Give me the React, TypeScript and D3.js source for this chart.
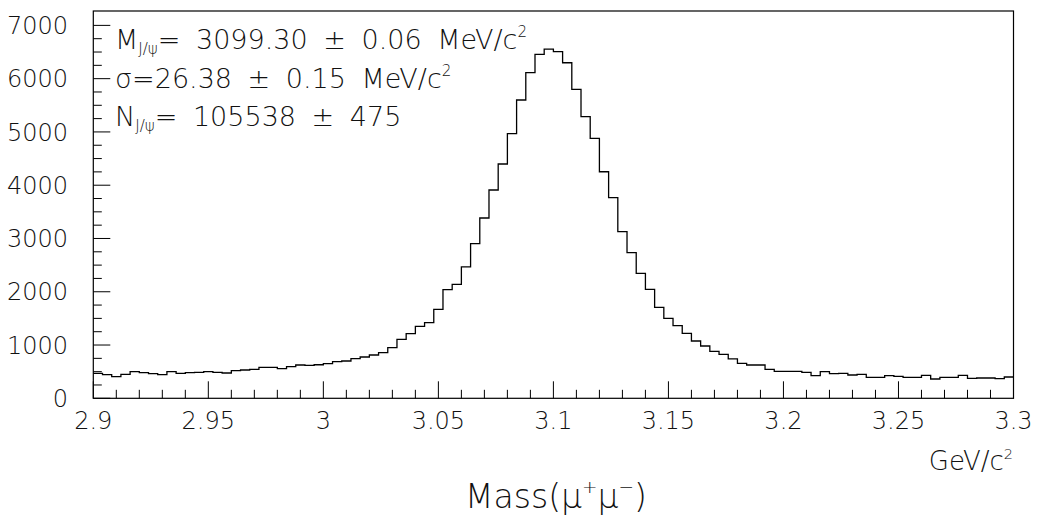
import React, { useEffect, useRef } from 'react';
import * as d3 from 'd3';

// histogram: 100 bins of 4 MeV between 2.9 and 3.3 GeV
const binStart = 2.9;
const binWidth = 0.004;
const counts = [
  469, 443, 405, 450, 500, 481, 462, 443, 500, 469,
  481, 488, 500, 488, 475, 518, 531, 544, 582, 582,
  556, 593, 625, 619, 630, 650, 690, 700, 743, 775,
  813, 856, 950, 1107, 1213, 1351, 1419, 1670, 2040, 2140,
  2468, 2902, 3384, 3910, 4398, 4967, 5599, 6112, 6457, 6556,
  6506, 6299, 5800, 5286, 4880, 4253, 3765, 3127, 2733, 2346,
  2046, 1708, 1502, 1363, 1220, 1076, 982, 880, 826, 740,
  657, 625, 625, 544, 507, 507, 507, 488, 424, 500,
  462, 469, 437, 450, 394, 394, 424, 413, 394, 394,
  432, 362, 394, 394, 432, 375, 381, 381, 368, 400,
];

const xMajorTicks = [2.9, 2.95, 3.0, 3.05, 3.1, 3.15, 3.2, 3.25, 3.3];
const xTickLabels = ['2.9', '2.95', '3', '3.05', '3.1', '3.15', '3.2', '3.25', '3.3'];
const yMajorTicks = [0, 1000, 2000, 3000, 4000, 5000, 6000, 7000];

// fit results, [text, 'sub' | 'sup' | '']
const fitLines: [string, string][][] = [
  [['M', ''], ['J/ψ', 'sub'], ['= 3099.30 ± 0.06 MeV/c', ''], ['2', 'sup']],
  [['σ=26.38 ± 0.15 MeV/c', ''], ['2', 'sup']],
  [['N', ''], ['J/ψ', 'sub'], ['= 105538 ± 475', '']],
];

const FONT = "'DejaVu Sans', sans-serif";

function richText(sel: any, parts: [string, string][], fs: number) {
  let shift = 0;
  parts.forEach(([t, k]) => {
    const target = k === 'sub' ? fs * 0.2 : k === 'sup' ? -fs * 0.44 : 0;
    sel.append('tspan')
      .attr('dy', target - shift)
      .attr('font-size', k ? fs * 0.56 : fs)
      .text(t);
    shift = target;
  });
}

export default function App() {
  const ref = useRef<SVGSVGElement>(null);

  useEffect(() => {
    const svg = d3.select(ref.current);
    svg.selectAll('*').remove();

    const left = 93.3, right = 1013.5, top = 11, bottom = 398.3;
    const x = d3.scaleLinear().domain([2.9, 3.3]).range([left, right]);
    const y = d3.scaleLinear().domain([0, 7270]).range([bottom, top]);

    const g = svg.append('g').attr('font-family', FONT).attr('font-weight', 200).attr('fill', '#111');

    // frame
    g.append('rect')
      .attr('x', left).attr('y', top)
      .attr('width', right - left).attr('height', bottom - top)
      .attr('fill', 'none').attr('stroke', '#000').attr('stroke-width', 1.2);

    // x ticks (inside, pointing up)
    const xMinor = d3.range(0, 41).map((i) => 2.9 + i * 0.01);
    g.selectAll('.xt').data(xMinor).enter().append('line')
      .attr('x1', (d) => x(d)).attr('x2', (d) => x(d))
      .attr('y1', bottom)
      .attr('y2', (d, i) => bottom - (i % 5 === 0 ? 17 : 8.5))
      .attr('stroke', '#000').attr('stroke-width', 1);

    g.selectAll('.xl').data(xMajorTicks).enter().append('text')
      .attr('x', (d) => x(d)).attr('y', 429)
      .attr('text-anchor', 'middle').attr('font-size', 24)
      .text((d, i) => xTickLabels[i]);

    // y ticks (inside, pointing right)
    const yMinor = d3.range(0, 29).map((i) => i * 250);
    g.selectAll('.yt').data(yMinor).enter().append('line')
      .attr('x1', left)
      .attr('x2', (d, i) => left + (i % 4 === 0 ? 17 : 8.5))
      .attr('y1', (d) => y(d)).attr('y2', (d) => y(d))
      .attr('stroke', '#000').attr('stroke-width', 1);

    g.selectAll('.yl').data(yMajorTicks).enter().append('text')
      .attr('x', 68).attr('y', (d) => y(d))
      .attr('dy', '0.36em')
      .attr('text-anchor', 'end').attr('font-size', 24)
      .text((d) => String(d));

    // histogram outline
    const pts: [number, number][] = counts.map((c, i) => [binStart + i * binWidth, c]);
    pts.push([binStart + counts.length * binWidth, counts[counts.length - 1]]);
    const line = d3.line<[number, number]>()
      .x((d) => x(d[0])).y((d) => y(d[1]))
      .curve(d3.curveStepAfter);
    g.append('path')
      .attr('d', line(pts))
      .attr('fill', 'none').attr('stroke', '#000').attr('stroke-width', 1.3);

    // fit results (wide spaces like the PAW stroke font)
    fitLines.forEach((parts, i) => {
      const t = g.append('text')
        .attr('x', 115).attr('y', 49 + i * 38.5)
        .attr('font-size', 27)
        .attr('word-spacing', 7)
        .attr('xml:space', 'preserve');
      richText(t, parts, 27);
    });

    // axis titles
    const unit = g.append('text').attr('x', 1013).attr('y', 470)
      .attr('text-anchor', 'end').attr('font-size', 26);
    richText(unit, [['GeV/c', ''], ['2', 'sup']], 26);

    const title = g.append('text').attr('x', 556).attr('y', 508)
      .attr('text-anchor', 'middle').attr('font-size', 33);
    richText(title, [['Mass(μ', ''], ['+', 'sup'], ['μ', ''], ['−', 'sup'], [')', '']], 33);
  }, []);

  return (
    <svg
      ref={ref}
      width={1039}
      height={518}
      style={{ position: 'absolute', left: 0, top: 0, background: '#fff' }}
    />
  );
}
